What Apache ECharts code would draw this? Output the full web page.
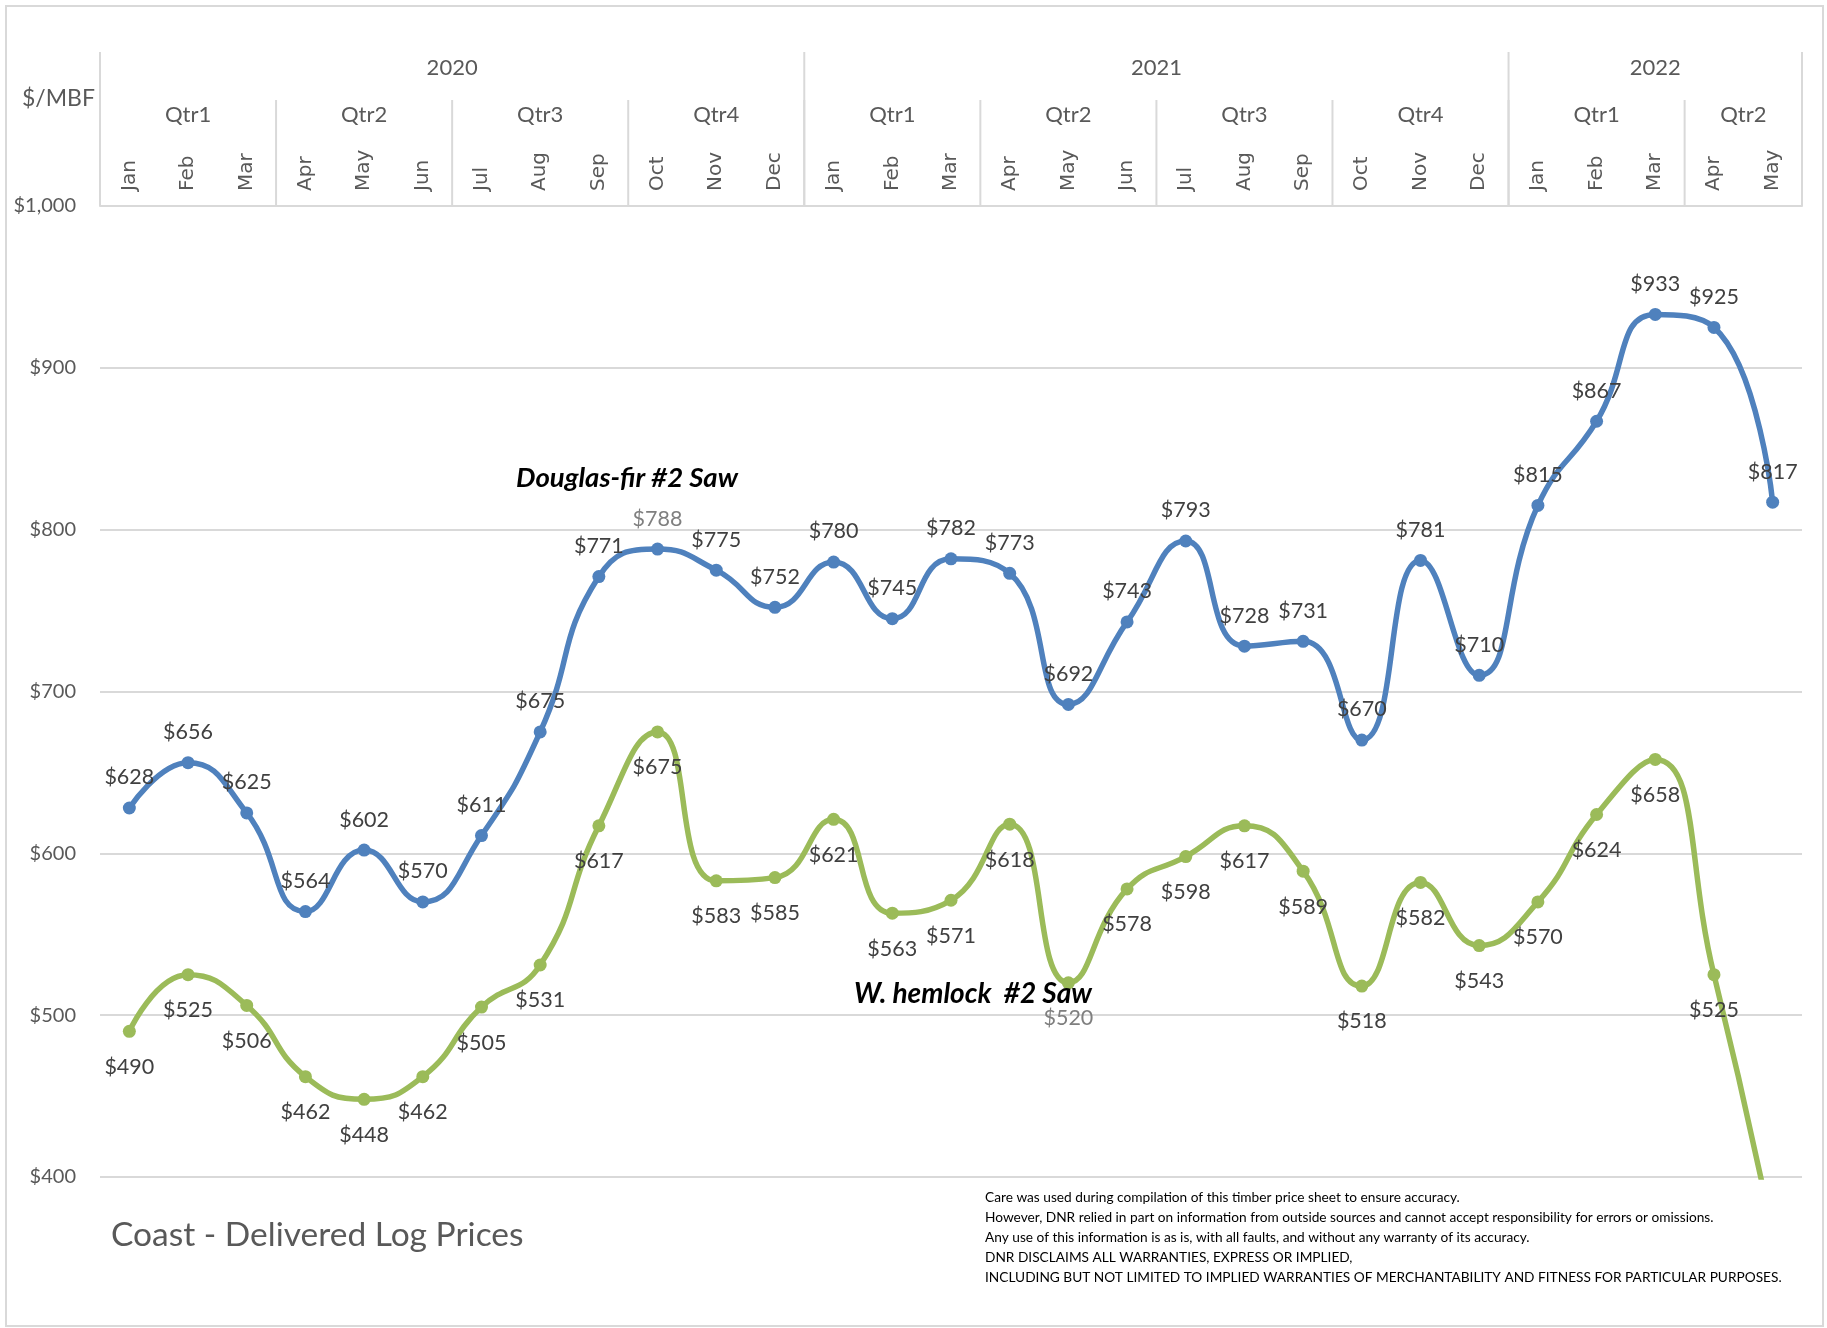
<!DOCTYPE html>
<html><head><meta charset="utf-8">
<script src="https://cdn.jsdelivr.net/npm/echarts@6/dist/echarts.min.js"></script>
<style>html,body{margin:0;padding:0;background:#fff}#c{width:1827px;height:1328px}</style>
</head><body><div id="c"></div>
<script>
const months = ['Jan','Feb','Mar','Apr','May','Jun','Jul','Aug','Sep','Oct','Nov','Dec',
  'Jan','Feb','Mar','Apr','May','Jun','Jul','Aug','Sep','Oct','Nov','Dec',
  'Jan','Feb','Mar','Apr','May'];
const douglasFir = [628,656,625,564,602,570,611,675,771,788,775,752,
  780,745,782,773,692,743,793,728,731,670,781,710,
  815,867,933,925,817];
const hemlock = [490,525,506,462,448,462,505,531,617,675,583,585,
  621,563,571,618,520,578,598,617,589,518,582,543,
  570,624,658,525,365];
const quarterLabels = ['Qtr1','Qtr2','Qtr3','Qtr4','Qtr1','Qtr2','Qtr3','Qtr4','Qtr1','Qtr2'];
const quarterSpans = [3,3,3,3,3,3,3,3,3,2];
const yearLabels = ['2020','2021','2022'];
const yearSpans = [12,12,5];
const yMin = 400, yMax = 1000, yStep = 100;
const fadedDF = [9];     // labels drawn lighter in the source
const fadedWH = [16];
const hiddenWH = [28];   // below the axis floor

const LATO = 'Lato, "Open Sans", sans-serif';

function spansToItems(labels, spans) {
  let s = 0;
  return labels.map((l, i) => { const it = {name: l, value: [s, s + spans[i] - 1, yMax]}; s += spans[i]; return it; });
}
function headerRender(labels, lineLen, textOffset) {
  return function (params, api) {
    const a = api.coord([api.value(0), yMax]);
    const b = api.coord([api.value(1), yMax]);
    const bw = api.coord([1, yMax])[0] - api.coord([0, yMax])[0];
    const x0 = a[0] - bw / 2, x1 = b[0] + bw / 2, yb = a[1];
    const ls = {stroke: '#d9d9d9', lineWidth: 2};
    const ch = [
      {type: 'line', shape: {x1: x0, y1: yb - lineLen, x2: x0, y2: yb}, style: ls},
      {type: 'text', x: (x0 + x1) / 2, y: yb - textOffset, style: {text: labels[params.dataIndex],
        align: 'center', verticalAlign: 'middle', fill: '#595959', font: '22px ' + LATO}}
    ];
    if (params.dataIndex === labels.length - 1) ch.push({type: 'line', shape: {x1: x1, y1: yb - lineLen, x2: x1, y2: yb}, style: ls});
    return {type: 'group', children: ch};
  };
}
const qItems = spansToItems(quarterLabels, quarterSpans);
const yItems = spansToItems(yearLabels, yearSpans);

const chart = echarts.init(document.getElementById('c'));
chart.setOption({
  animation: false,
  grid: {left: 100, right: 25, top: 206, bottom: 151},
  xAxis: {
    type: 'category', position: 'top', data: months, boundaryGap: true,
    axisLine: {show: true, lineStyle: {color: '#d9d9d9', width: 2}},
    axisTick: {show: false},
    axisLabel: {interval: 0, rotate: -90, margin: 15, color: '#595959', fontSize: 20, fontFamily: '"DejaVu Sans", sans-serif'},
    splitLine: {show: false}
  },
  yAxis: {
    type: 'value', min: yMin, max: yMax, interval: yStep,
    axisLine: {show: false}, axisTick: {show: false},
    axisLabel: {margin: 24, color: '#595959', fontSize: 20, fontFamily: LATO,
      formatter: v => '$' + v.toLocaleString('en-US')},
    splitLine: {lineStyle: {color: '#d9d9d9', width: 2}}
  },
  series: [
    {
      type: 'line', name: 'Douglas-fir #2 Saw', smooth: 0.5, clip: true,
      data: douglasFir.map((v, i) => fadedDF.includes(i) ? {value: v, label: {color: '#7f7f7f'}} : v),
      symbol: 'circle', symbolSize: 13,
      lineStyle: {color: '#4f81bd', width: 5.5},
      itemStyle: {color: '#4f81bd'},
      label: {show: true, position: 'top', distance: 13, color: '#404040', fontSize: 21.5, fontFamily: LATO,
        formatter: p => '$' + p.value},
      z: 3
    },
    {
      type: 'line', name: 'W. hemlock #2 Saw', smooth: 0.5, clip: true,
      data: hemlock.map((v, i) => hiddenWH.includes(i) ? {value: v, label: {show: false}} :
        (fadedWH.includes(i) ? {value: v, label: {color: '#7f7f7f'}} : v)),
      symbol: 'circle', symbolSize: 13,
      lineStyle: {color: '#9bbb59', width: 5.5},
      itemStyle: {color: '#9bbb59'},
      label: {show: true, position: 'bottom', distance: 18, color: '#404040', fontSize: 21.5, fontFamily: LATO,
        formatter: p => '$' + p.value},
      z: 2
    },
    {
      type: 'custom', name: 'quarters', silent: true, clip: false,
      encode: {x: [0, 1], y: 2},
      data: qItems, renderItem: headerRender(quarterLabels, 106, 91), z: 5
    },
    {
      type: 'custom', name: 'years', silent: true, clip: false,
      encode: {x: [0, 1], y: 2},
      data: yItems, renderItem: headerRender(yearLabels, 154, 138), z: 5
    }
  ],
  graphic: [
    {type: 'rect', shape: {x: 6, y: 6, width: 1817, height: 1320}, style: {fill: 'none', stroke: '#d9d9d9', lineWidth: 2}, silent: true},
    {type: 'text', x: 22, y: 99, style: {text: '$/MBF', fill: '#595959', font: '23px ' + LATO, verticalAlign: 'middle'}},
    {type: 'text', x: 111, y: 1235, style: {text: 'Coast - Delivered Log Prices', fill: '#595959', font: '33.5px ' + LATO, verticalAlign: 'middle'}},
    {type: 'text', x: 516, y: 478, z: 10, style: {text: 'Douglas-fir #2 Saw', fill: '#000', font: 'italic bold 27.5px ' + LATO, verticalAlign: 'middle',
      shadowColor: 'rgba(0,0,0,0.4)', shadowBlur: 8, shadowOffsetX: 3, shadowOffsetY: 4}},
    {type: 'text', x: 854, y: 994, z: 10, style: {text: 'W. hemlock  #2 Saw', fill: '#000', font: 'italic bold 28px ' + LATO, verticalAlign: 'middle',
      shadowColor: 'rgba(0,0,0,0.4)', shadowBlur: 8, shadowOffsetX: 3, shadowOffsetY: 4}},
    {type: 'text', x: 985, y: 1188, style: {
      text: 'Care was used during compilation of this timber price sheet to ensure accuracy.\nHowever, DNR relied in part on information from outside sources and cannot accept responsibility for errors or omissions.\nAny use of this information is as is, with all faults, and without any warranty of its accuracy.\nDNR DISCLAIMS ALL WARRANTIES, EXPRESS OR IMPLIED,\nINCLUDING BUT NOT LIMITED TO IMPLIED WARRANTIES OF MERCHANTABILITY AND FITNESS FOR PARTICULAR PURPOSES.',
      fill: '#000', font: '13.7px ' + LATO, lineHeight: 19.8}}
  ]
});
</script></body></html>
